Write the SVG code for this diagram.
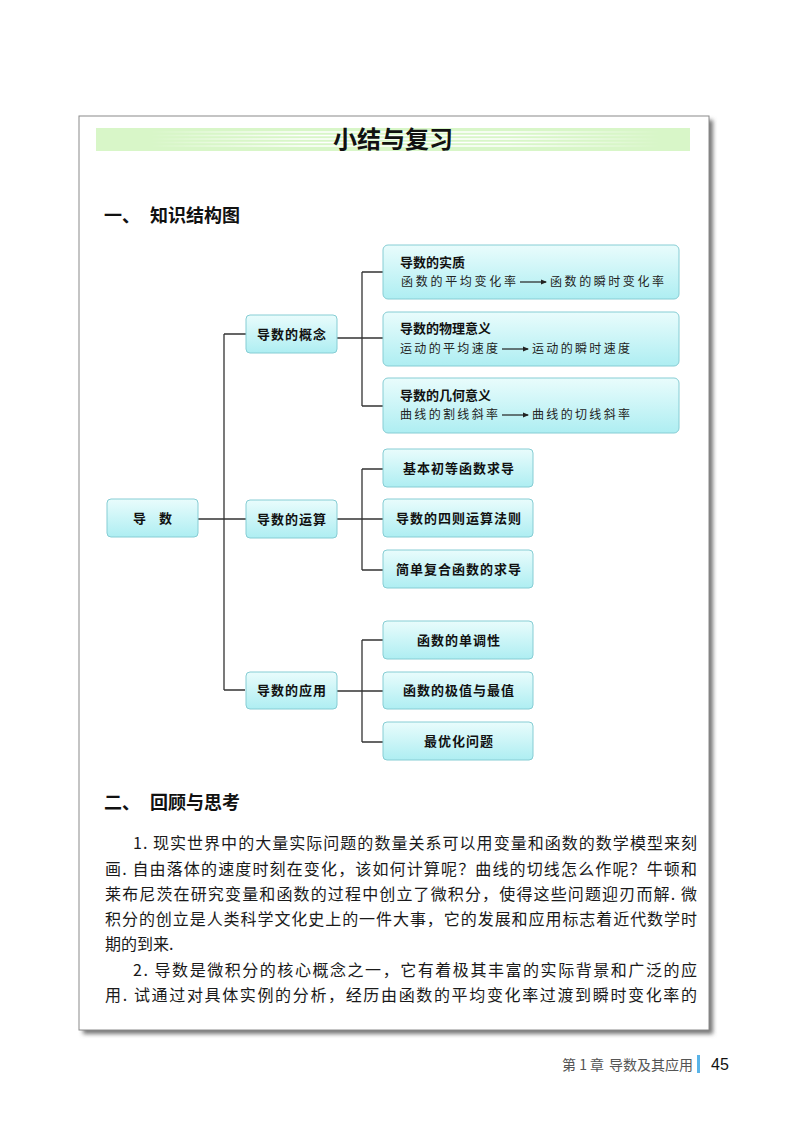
<svg xmlns="http://www.w3.org/2000/svg" width="800" height="1138" viewBox="0 0 800 1138">
<style>
.cjk{font-family:"Noto Sans CJK SC","Noto Sans CJK JP",sans-serif;}
.box{fill:url(#boxGrad);stroke:#86cdd4;stroke-width:1;}
.t2{font-family:"Noto Sans CJK SC",sans-serif;font-size:13px;font-weight:700;fill:#111;letter-spacing:1px;text-anchor:middle;}
.t3h{font-family:"Noto Sans CJK SC",sans-serif;font-size:13px;font-weight:700;fill:#111;}
.t3s{font-family:"Noto Sans CJK SC",sans-serif;font-size:12px;fill:#222;}
.conn{fill:none;stroke:#333;stroke-width:1.3;}
.arr{stroke:#222;stroke-width:1.2;marker-end:url(#ah);}
.head{font-family:"Noto Sans CJK SC",sans-serif;font-size:18px;font-weight:700;fill:#111;}
.body{font-family:"Noto Sans CJK SC",sans-serif;font-size:16px;fill:#1a1a1a;}
.foot{font-family:"Noto Sans CJK SC",sans-serif;font-size:14px;fill:#555;}
</style>
<defs>
<linearGradient id="boxGrad" x1="0" y1="0" x2="0" y2="1">
<stop offset="0" stop-color="#e9fcfc"/>
<stop offset="1" stop-color="#aeeef2"/>
</linearGradient>
<linearGradient id="stripeGrad" gradientUnits="userSpaceOnUse" x1="150" y1="0" x2="660" y2="0">
<stop offset="0" stop-color="#ffffff" stop-opacity="0"/>
<stop offset="0.3" stop-color="#ffffff" stop-opacity="1"/>
<stop offset="0.7" stop-color="#ffffff" stop-opacity="1"/>
<stop offset="1" stop-color="#ffffff" stop-opacity="0"/>
</linearGradient>
<filter id="blur" x="-5%" y="-5%" width="110%" height="110%">
<feGaussianBlur stdDeviation="2"/>
</filter>
<marker id="ah" viewBox="0 0 6 6" refX="5" refY="3" markerWidth="6" markerHeight="6" markerUnits="userSpaceOnUse" orient="auto">
<path d="M0,0.5 L6,3 L0,5.5 Z" fill="#222"/>
</marker>
</defs>
<rect width="800" height="1138" fill="#ffffff"/>
<!-- page frame -->
<rect x="83" y="120" width="630" height="914" fill="#777" filter="url(#blur)"/>
<rect x="79" y="116" width="630" height="914" fill="#ffffff" stroke="#8a8a8a" stroke-width="1"/>
<!-- title band -->
<g id="title">
<rect x="96" y="128" width="594" height="23" fill="#d8f6c8"/>
<g stroke="url(#stripeGrad)" stroke-width="1.3">
<line x1="150" y1="132" x2="660" y2="132"/>
<line x1="150" y1="135.5" x2="660" y2="135.5"/>
<line x1="150" y1="139" x2="660" y2="139"/>
<line x1="150" y1="142.5" x2="660" y2="142.5"/>
<line x1="150" y1="146" x2="660" y2="146"/>
</g>
<text x="393" y="148" class="cjk" font-size="24" font-weight="700" text-anchor="middle" fill="#111">小结与复习</text>
</g>
<g id="heading1">
<text x="104" y="222" class="head">一、</text>
<text x="150" y="222" class="head">知识结构图</text>
</g>
<!-- connectors -->
<g id="connectors">
<path class="conn" d="M198,519 H246 M224,334 V690 M224,334 H246 M224,690 H245"/>
<path class="conn" d="M337,338 H383 M362,272 V406 M362,272 H383 M362,406 H383"/>
<path class="conn" d="M337,519 H383 M362,469 V570 M362,469 H383 M362,570 H383"/>
<path class="conn" d="M337,691 H383 M362,640 V742 M362,640 H383 M362,742 H383"/>
</g>
<!-- root -->
<g id="n-root">
<rect class="box" x="107" y="499" width="91" height="38" rx="4"/>
<text class="t2" x="140" y="523">导</text>
<text class="t2" x="166" y="523">数</text>
</g>
<!-- level 2 -->
<g id="n-concept">
<rect class="box" x="246" y="315" width="91" height="38" rx="4"/>
<text class="t2" x="292" y="339">导数的概念</text>
</g>
<g id="n-operation">
<rect class="box" x="246" y="500" width="91" height="38" rx="4"/>
<text class="t2" x="292" y="524">导数的运算</text>
</g>
<g id="n-application">
<rect class="box" x="246" y="672" width="91" height="37" rx="4"/>
<text class="t2" x="292" y="695">导数的应用</text>
</g>
<!-- level 3: concept -->
<g id="n-essence">
<rect class="box" x="383" y="245" width="296" height="54" rx="5"/>
<text class="t3h" x="400" y="267">导数的实质</text>
<text class="t3s" x="401" y="286" textLength="115" lengthAdjust="spacing">函数的平均变化率</text>
<line class="arr" x1="520" y1="282" x2="546" y2="282"/>
<text class="t3s" x="550" y="286" textLength="114" lengthAdjust="spacing">函数的瞬时变化率</text>
</g>
<g id="n-physics">
<rect class="box" x="383" y="312" width="296" height="54" rx="5"/>
<text class="t3h" x="400" y="333">导数的物理意义</text>
<text class="t3s" x="400" y="353" textLength="98" lengthAdjust="spacing">运动的平均速度</text>
<line class="arr" x1="502" y1="349" x2="528" y2="349"/>
<text class="t3s" x="532" y="353" textLength="98" lengthAdjust="spacing">运动的瞬时速度</text>
</g>
<g id="n-geometry">
<rect class="box" x="383" y="378" width="296" height="55" rx="5"/>
<text class="t3h" x="400" y="400">导数的几何意义</text>
<text class="t3s" x="400" y="419" textLength="98" lengthAdjust="spacing">曲线的割线斜率</text>
<line class="arr" x1="502" y1="415" x2="528" y2="415"/>
<text class="t3s" x="532" y="419" textLength="98" lengthAdjust="spacing">曲线的切线斜率</text>
</g>
<!-- level 3: operation -->
<g id="n-basic">
<rect class="box" x="383" y="449" width="150" height="38" rx="4"/>
<text class="t2" x="459" y="473">基本初等函数求导</text>
</g>
<g id="n-rules">
<rect class="box" x="383" y="499" width="150" height="38" rx="4"/>
<text class="t2" x="459" y="523">导数的四则运算法则</text>
</g>
<g id="n-composite">
<rect class="box" x="383" y="550" width="150" height="38" rx="4"/>
<text class="t2" x="459" y="574">简单复合函数的求导</text>
</g>
<!-- level 3: application -->
<g id="n-monotone">
<rect class="box" x="383" y="621" width="150" height="38" rx="4"/>
<text class="t2" x="459" y="645">函数的单调性</text>
</g>
<g id="n-extreme">
<rect class="box" x="383" y="672" width="150" height="37" rx="4"/>
<text class="t2" x="459" y="695">函数的极值与最值</text>
</g>
<g id="n-optimize">
<rect class="box" x="383" y="722" width="150" height="38" rx="4"/>
<text class="t2" x="459" y="746">最优化问题</text>
</g>
<!-- section 2 -->
<g id="heading2">
<text x="104" y="809" class="head">二、</text>
<text x="150" y="809" class="head">回顾与思考</text>
</g>
<g id="body">
<text class="body" x="133" y="849" textLength="564" lengthAdjust="spacing">1. 现实世界中的大量实际问题的数量关系可以用变量和函数的数学模型来刻</text>
<text class="body" x="105" y="875" textLength="592" lengthAdjust="spacing">画. 自由落体的速度时刻在变化，该如何计算呢？曲线的切线怎么作呢？牛顿和</text>
<text class="body" x="105" y="900" textLength="592" lengthAdjust="spacing">莱布尼茨在研究变量和函数的过程中创立了微积分，使得这些问题迎刃而解. 微</text>
<text class="body" x="105" y="925" textLength="592" lengthAdjust="spacing">积分的创立是人类科学文化史上的一件大事，它的发展和应用标志着近代数学时</text>
<text class="body" x="105" y="950">期的到来.</text>
<text class="body" x="133" y="976" textLength="564" lengthAdjust="spacing">2. 导数是微积分的核心概念之一，它有着极其丰富的实际背景和广泛的应</text>
<text class="body" x="105" y="1001" textLength="592" lengthAdjust="spacing">用. 试通过对具体实例的分析，经历由函数的平均变化率过渡到瞬时变化率的</text>
</g>
<!-- footer -->
<g id="footer">
<text class="foot" x="562" y="1070">第 1 章</text>
<text class="foot" x="693" y="1070" text-anchor="end">导数及其应用</text>
<rect x="697" y="1055" width="3" height="18" fill="#5ab4e8"/>
<text x="711" y="1070" font-family="Liberation Sans, Arial, sans-serif" font-size="16" fill="#111">45</text>
</g>
</svg>
